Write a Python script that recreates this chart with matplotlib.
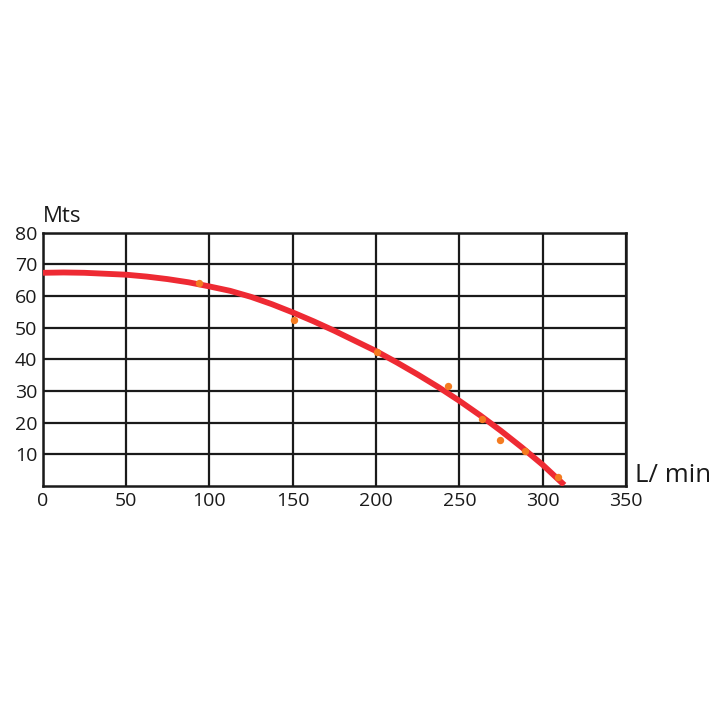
import matplotlib.pyplot as plt

# pump curve (flow L/min, head m)
curve_flow = [0, 12.5, 25, 37.5, 50, 62.5, 75, 87.5, 100, 112.5, 125, 137.5, 150,
              162.5, 175, 187.5, 200, 212.5, 225, 237.5, 250, 262.5, 275, 287.5, 300, 313]
curve_head = [67.3, 67.4, 67.3, 67.0, 66.7, 66.1, 65.3, 64.3, 63.0, 61.6, 59.7, 57.4, 54.8,
              52.0, 49.0, 45.8, 42.6, 39.0, 35.2, 31.2, 26.9, 22.3, 17.4, 12.2, 6.7, 0.3]

# measured points
meas_flow = [94, 150.6, 200.8, 243.4, 263.6, 274.6, 289.2, 309]
meas_head = [64, 52.4, 42.3, 31.6, 21.1, 14.6, 10.9, 2.8]

x_ticks = [0, 50, 100, 150, 200, 250, 300, 350]
y_ticks = [10, 20, 30, 40, 50, 60, 70, 80]

plt.rcParams['font.family'] = ['Open Sans', 'DejaVu Sans']

fig = plt.figure(figsize=(7.2, 7.2), dpi=100)
ax = fig.add_axes([0.0593, 0.325, 0.8101, 0.352])

ax.set_xlim(0, 350)
ax.set_ylim(0, 80)
ax.set_xticks(x_ticks)
ax.set_yticks(y_ticks)
ax.grid(True, color='#1a1a1a', linewidth=1.6)
ax.set_axisbelow(True)
for s in ax.spines.values():
    s.set_color('#1a1a1a')
    s.set_linewidth(1.8)
ax.tick_params(length=0, labelsize=14, colors='#1a1a1a', pad=4)

ax.plot(curve_flow, curve_head, color='#ee2a33', linewidth=4.2, solid_capstyle='butt',
        solid_joinstyle='round', zorder=3)
ax.scatter(meas_flow, meas_head, s=28, color='#f47b20', zorder=4, linewidths=0)

ax.text(0.0, 1.02, 'Mts', transform=ax.transAxes, fontsize=16, color='#1a1a1a',
        ha='left', va='bottom')
ax.text(1.015, 0.04, 'L/ min', transform=ax.transAxes, fontsize=18.5, color='#1a1a1a',
        ha='left', va='center')

fig.savefig('out.png', dpi=100)
